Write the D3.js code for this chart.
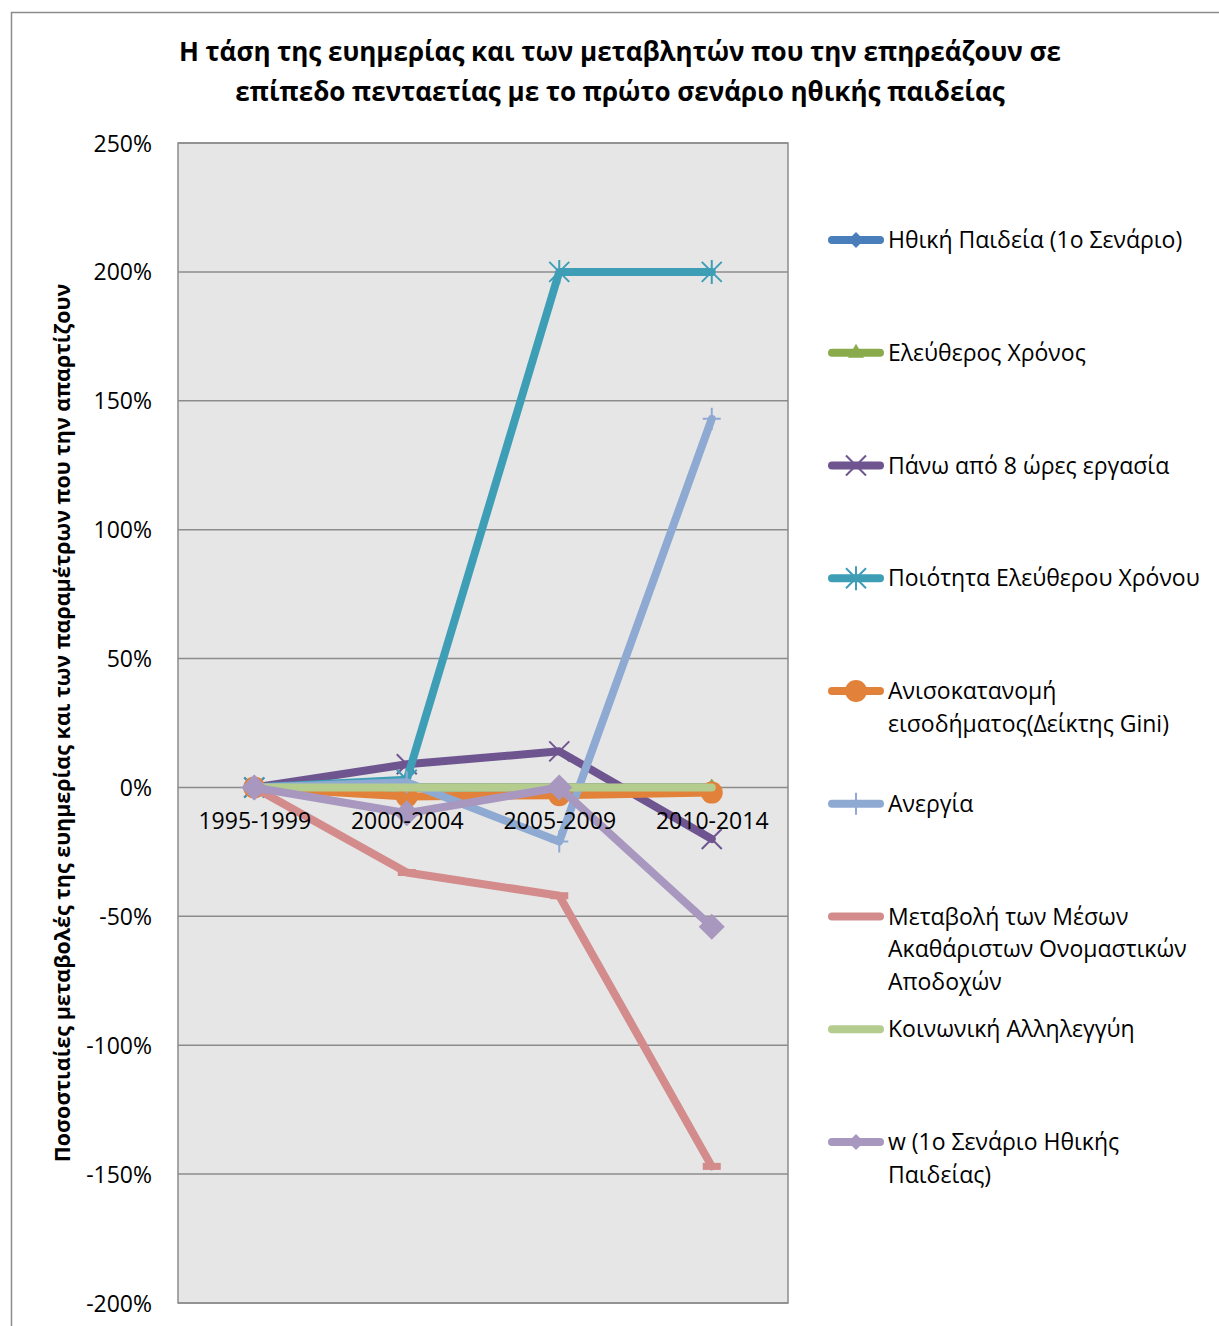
<!DOCTYPE html>
<html>
<head>
<meta charset="utf-8">
<script src="https://cdn.jsdelivr.net/npm/d3@7"></script>
<style>
  html, body { margin: 0; padding: 0; background: #fff; }
  svg { display: block; }
  text { font-family: "Open Sans", "Noto Sans", sans-serif; fill: #000; }
</style>
</head>
<body>
<svg id="chart" width="1219" height="1326"></svg>
<script>
// ---------- data ----------
const categories = ["1995-1999", "2000-2004", "2005-2009", "2010-2014"];
const seriesNames = [
  "Ηθική Παιδεία (1ο Σενάριο)",
  "Ελεύθερος Χρόνος",
  "Πάνω από 8 ώρες εργασία",
  "Ποιότητα Ελεύθερου Χρόνου",
  "Ανισοκατανομή εισοδήματος(Δείκτης Gini)",
  "Ανεργία",
  "Μεταβολή των Μέσων Ακαθάριστων Ονομαστικών Αποδοχών",
  "Κοινωνική Αλληλεγγύη",
  "w (1ο Σενάριο Ηθικής Παιδείας)"
];
const ethikiPaideia   = [0, 0, 0, 0];
const eleftherosXronos = [0, 0, 0, 0];
const pano8Ores       = [0, 9, 14, -20];
const poiotitaXronou  = [0, 3, 200, 200];
const anisokatanomi   = [0, -3.5, -3, -2];
const anergia         = [0, 2, -21, 143];
const metavoliApodoxon = [0, -33, -42, -147];
const koinonikiAllileggyi = [0, 0, 0, 0];
const wSenario        = [0, -10, 0, -54];
const seriesValues = [ethikiPaideia, eleftherosXronos, pano8Ores, poiotitaXronou,
  anisokatanomi, anergia, metavoliApodoxon, koinonikiAllileggyi, wSenario];
const yTicks = [250, 200, 150, 100, 50, 0, -50, -100, -150, -200];
const titleLines = [
  "Η τάση της ευημερίας και των μεταβλητών που την επηρεάζουν σε",
  "επίπεδο πενταετίας με το πρώτο σενάριο ηθικής παιδείας"
];
const yAxisTitle = "Ποσοστιαίες μεταβολές της ευημερίας και των παραμέτρων που την απαρτίζουν";

// ---------- styles ----------
const colors = ["#4A7EBB", "#8AAB4B", "#6F5590", "#3E9EB6", "#E2823A",
                "#8EAAD2", "#D38B8B", "#B5CC8F", "#A897BF"];
const markers = ["diamond", "triangle", "x", "star", "circle", "plus", "dash", "none", "bigdiamond"];

const svg = d3.select("#chart");
const plot = { left: 178, right: 788, top: 143, bottom: 1303 };

// outer chart border
svg.append("rect").attr("x", 11.5).attr("y", 12.5).attr("width", 1230).attr("height", 1340)
  .attr("fill", "#fff").attr("stroke", "#8c8c8c").attr("stroke-width", 1.5);

const x = d3.scalePoint().domain(categories).range([plot.left, plot.right]).padding(0.5);
const y = d3.scaleLinear().domain([-200, 250]).range([plot.bottom, plot.top]);

// plot area
svg.append("rect").attr("x", plot.left).attr("y", plot.top)
  .attr("width", plot.right - plot.left).attr("height", plot.bottom - plot.top)
  .attr("fill", "#e6e6e6").attr("stroke", "#8c8c8c").attr("stroke-width", 1.5);

// gridlines
svg.append("g").selectAll("line").data(yTicks).join("line")
  .attr("x1", plot.left).attr("x2", plot.right)
  .attr("y1", d => y(d)).attr("y2", d => y(d))
  .attr("stroke", "#8c8c8c").attr("stroke-width", 1.5);

// y axis with d3 axis (labels only)
const yAxis = d3.axisLeft(y).tickValues(yTicks).tickSize(0).tickPadding(0)
  .tickFormat(d => d + "%");
const gy = svg.append("g").attr("transform", `translate(152,0)`).call(yAxis);
gy.select(".domain").remove();
gy.selectAll("text").attr("font-size", 23).attr("font-family", '"Open Sans", sans-serif')
  .attr("fill", "#000").attr("dy", "0.35em");

// marker drawing
function drawMarker(g, type, color, cx, cy) {
  const m = g.append("g").attr("transform", `translate(${cx},${cy})`);
  if (type === "diamond") {
    m.append("path").attr("d", "M0,-8L8,0L0,8L-8,0Z").attr("fill", color);
  } else if (type === "bigdiamond") {
    m.append("path").attr("d", "M0,-13L13,0L0,13L-13,0Z").attr("fill", color);
  } else if (type === "triangle") {
    m.append("path").attr("d", "M0,-9L8,5L-8,5Z").attr("fill", color);
  } else if (type === "circle") {
    m.append("circle").attr("r", 11).attr("fill", color);
  } else if (type === "x") {
    m.append("path").attr("d", "M-10,-10L10,10M-10,10L10,-10").attr("stroke", color).attr("stroke-width", 2).attr("fill", "none");
  } else if (type === "star") {
    m.append("path").attr("d", "M-10,-10L10,10M-10,10L10,-10M0,-12L0,12").attr("stroke", color).attr("stroke-width", 2).attr("fill", "none");
  } else if (type === "plus") {
    m.append("path").attr("d", "M-9,0L9,0M0,-11L0,11").attr("stroke", color).attr("stroke-width", 2).attr("fill", "none");
  } else if (type === "dash") {
    m.append("rect").attr("x", -9).attr("y", -3.5).attr("width", 18).attr("height", 7).attr("fill", color);
  }
}

// series
const line = d3.line().x((d, i) => x(categories[i])).y(d => y(d));
const seriesG = svg.append("g");
seriesValues.forEach((vals, si) => {
  const g = seriesG.append("g");
  g.append("path").datum(vals).attr("d", line)
    .attr("fill", "none").attr("stroke", colors[si]).attr("stroke-width", 8)
    .attr("stroke-linejoin", "round").attr("stroke-linecap", "round");
  vals.forEach((v, i) => drawMarker(g, markers[si], colors[si], x(categories[i]), y(v)));
});

// x axis labels (at zero line), drawn over the series
const xAxis = d3.axisBottom(x).tickSize(0).tickPadding(0);
const gx = svg.append("g").attr("transform", `translate(0,${y(0)})`).call(xAxis);
gx.select(".domain").remove();
gx.selectAll("text").attr("font-size", 23).attr("font-family", '"Open Sans", sans-serif')
  .attr("fill", "#000").attr("y", 42).attr("dy", "0");

// title
svg.append("g").selectAll("text").data(titleLines).join("text")
  .attr("x", 620).attr("y", (d, i) => 61 + i * 40)
  .attr("text-anchor", "middle").attr("font-weight", "bold").attr("font-size", 26)
  .text(d => d);

// y axis title
svg.append("text").attr("transform", "translate(70,723) rotate(-90)")
  .attr("text-anchor", "middle").attr("font-weight", "bold").attr("font-size", 21.5)
  .text(yAxisTitle);

// legend
const legendX = 828, legendTextX = 888, legendY0 = 240, legendStep = 112.75, lineH = 32.5, maxW = 322;
const legendFont = 23;
const lg = svg.append("g");
seriesNames.forEach((name, si) => {
  const cy = legendY0 + si * legendStep;
  const g = lg.append("g");
  g.append("line").attr("x1", legendX + 4).attr("x2", legendX + 52).attr("y1", cy).attr("y2", cy)
    .attr("stroke", colors[si]).attr("stroke-width", 8).attr("stroke-linecap", "round");
  drawMarker(g, markers[si] === "bigdiamond" ? "diamond" : markers[si], colors[si], legendX + 28, cy);
  // word wrap
  const words = name.split(" ");
  const t = g.append("text").attr("x", legendTextX).attr("font-size", legendFont);
  let lines = [], cur = "";
  const probe = g.append("text").attr("font-size", legendFont);
  words.forEach(w => {
    const test = cur ? cur + " " + w : w;
    probe.text(test);
    if (probe.node().getComputedTextLength() > maxW && cur) { lines.push(cur); cur = w; }
    else cur = test;
  });
  lines.push(cur);
  probe.remove();
  lines.forEach((l, li) => {
    t.append("tspan").attr("x", legendTextX).attr("y", cy + li * lineH).attr("dy", "0.35em").text(l);
  });
});
</script>
</body>
</html>
